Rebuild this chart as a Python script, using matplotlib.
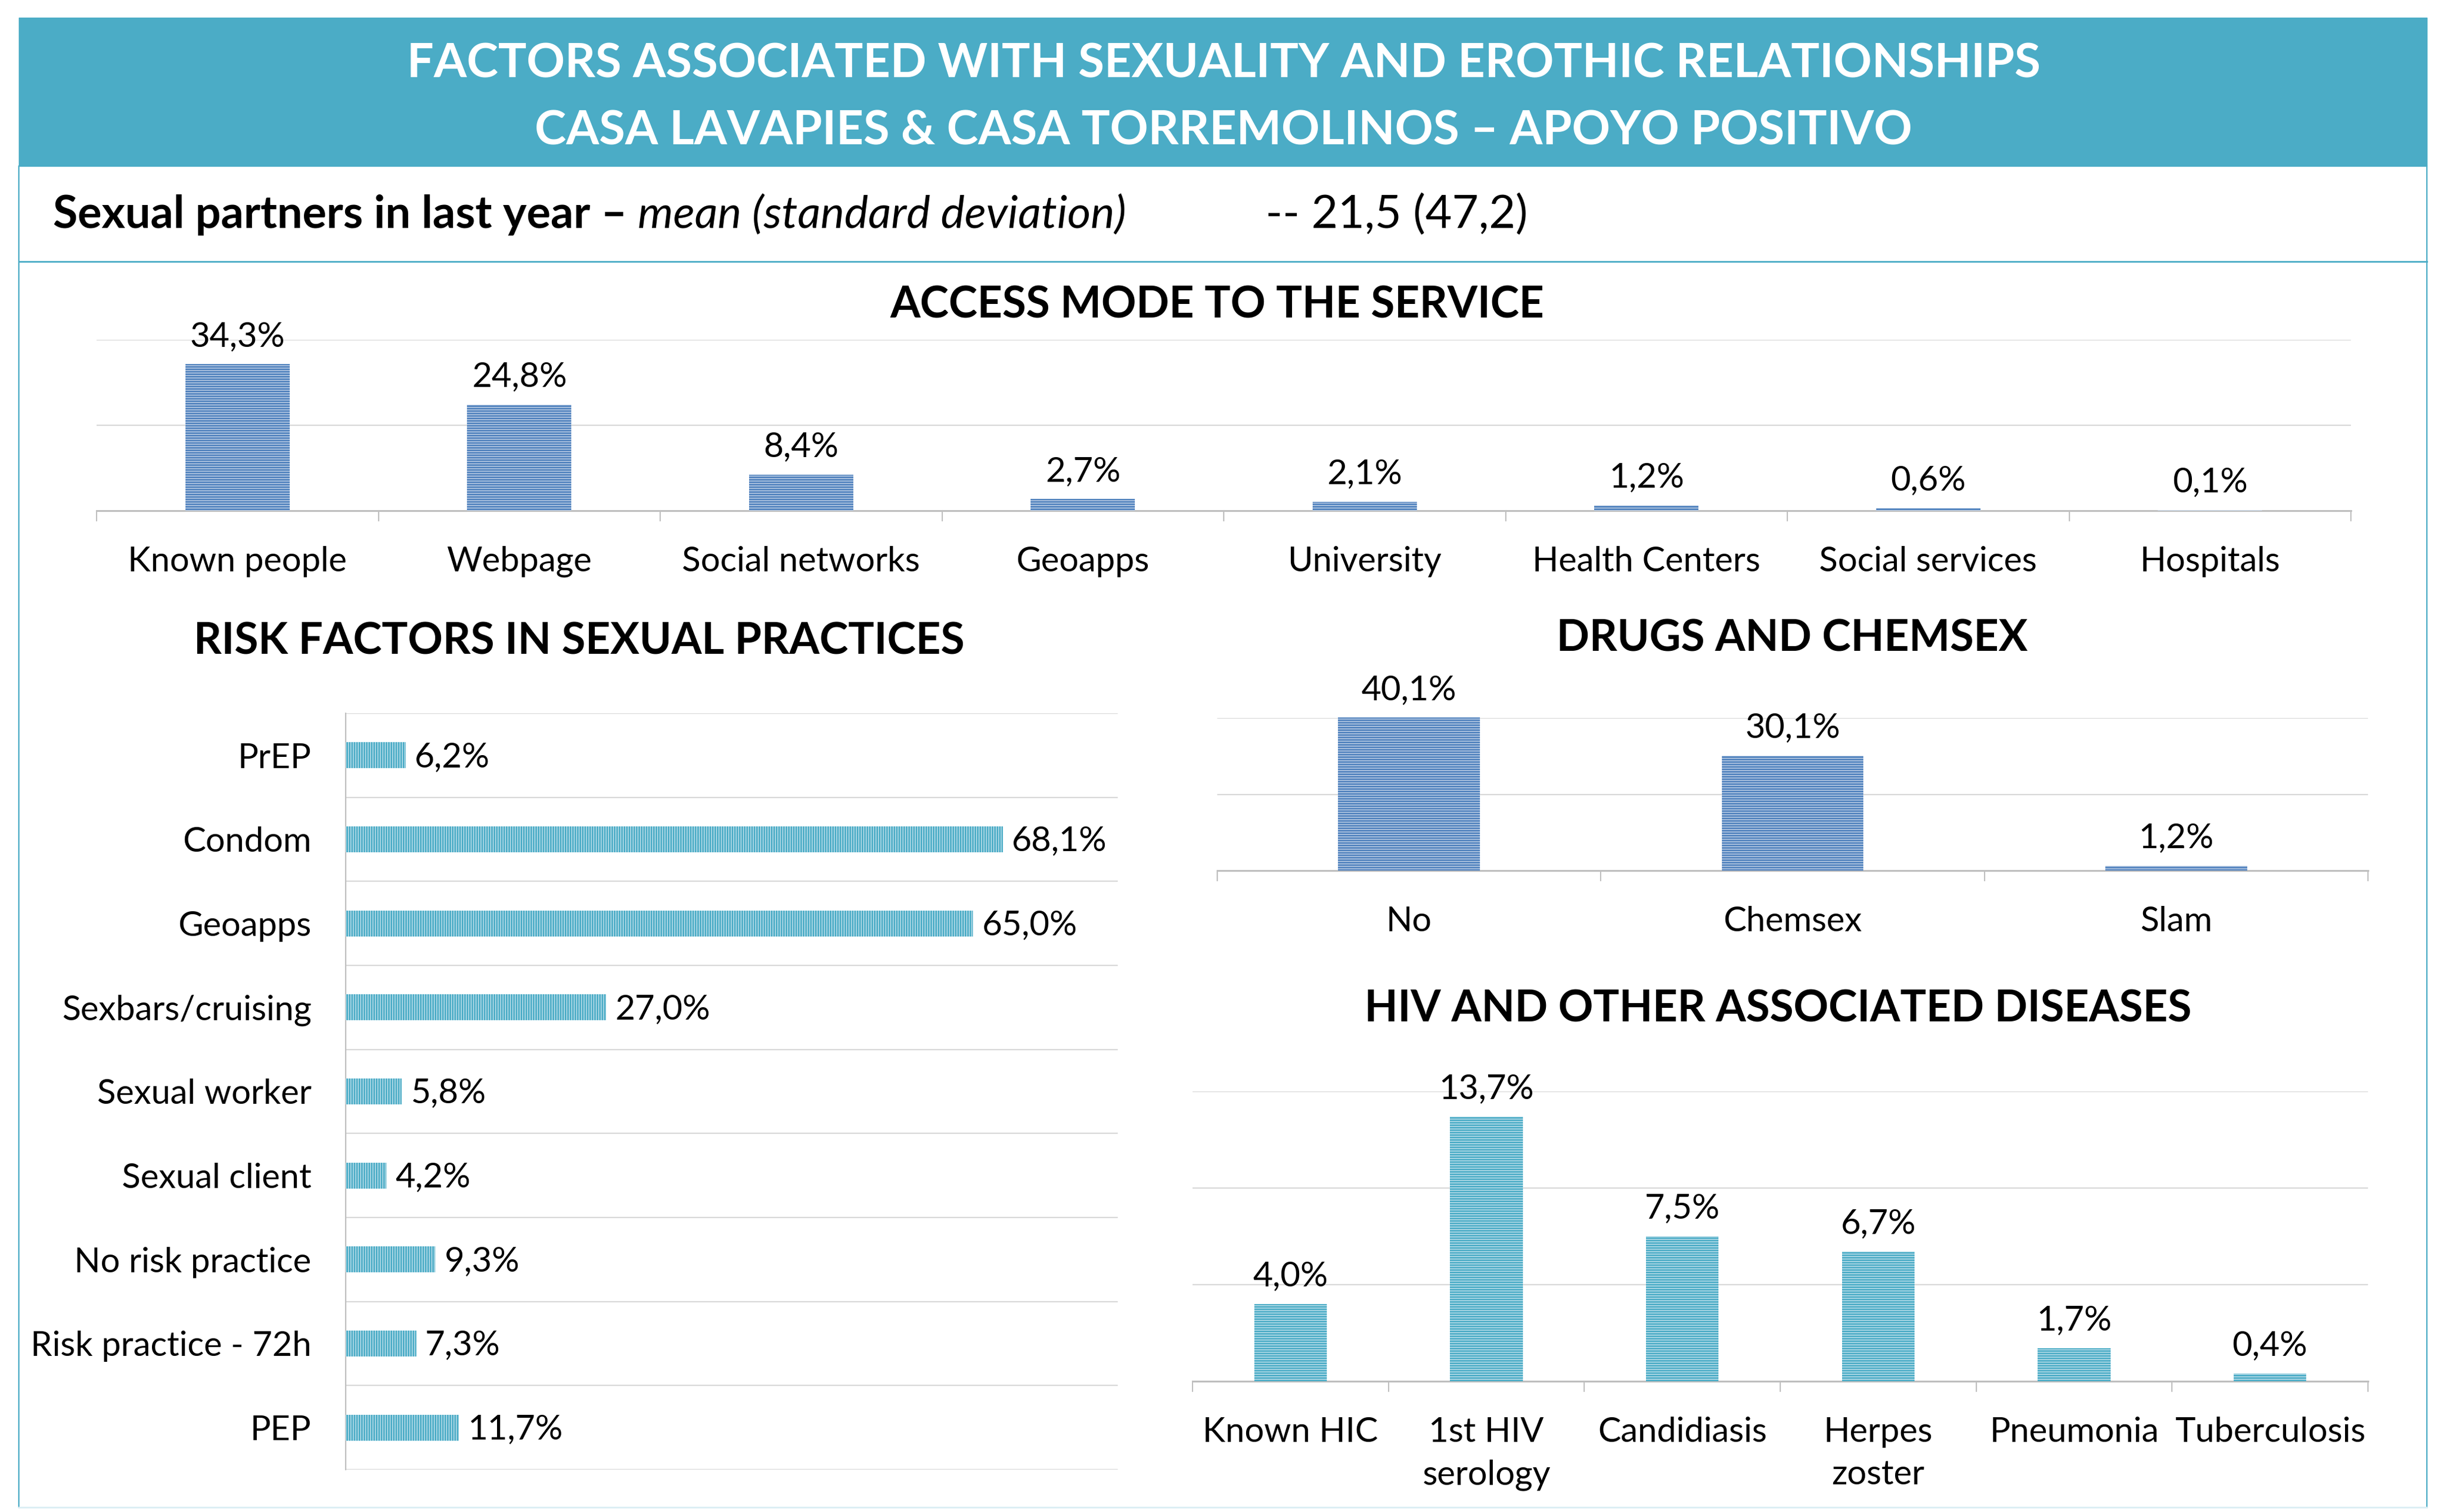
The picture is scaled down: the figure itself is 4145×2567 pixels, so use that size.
import matplotlib
matplotlib.use("Agg")
import matplotlib.pyplot as plt
import numpy as np

# data
access_cats = ["Known people", "Webpage", "Social networks", "Geoapps", "University",
               "Health Centers", "Social services", "Hospitals"]
access_vals = [34.3, 24.8, 8.4, 2.7, 2.1, 1.2, 0.6, 0.1]

risk_cats = ["PrEP", "Condom", "Geoapps", "Sexbars/cruising", "Sexual worker",
             "Sexual client", "No risk practice", "Risk practice - 72h", "PEP"]
risk_vals = [6.2, 68.1, 65.0, 27.0, 5.8, 4.2, 9.3, 7.3, 11.7]

drug_cats = ["No", "Chemsex", "Slam"]
drug_vals = [40.1, 30.1, 1.2]

hiv_cats = ["Known HIC", "1st HIV\nserology", "Candidiasis", "Herpes\nzoster",
            "Pneumonia", "Tuberculosis"]
hiv_vals = [4.0, 13.7, 7.5, 6.7, 1.7, 0.4]

title_lines = ["FACTORS ASSOCIATED WITH SEXUALITY AND EROTHIC RELATIONSHIPS",
               "CASA LAVAPIES & CASA TORREMOLINOS \u2013 APOYO POSITIVO"]

W, H = 4145, 2567
plt.rcParams["font.family"] = ["Lato", "DejaVu Sans"]
plt.rcParams["hatch.linewidth"] = 2.0

BLUE, BLUE_L = "#4F81BD", "#C9D7EA"
AQUA, AQUA_L = "#4BACC6", "#C8E4EE"
GRID, AXIS = "#D9D9D9", "#BFBFBF"
LBL = 42

fig = plt.figure(figsize=(W / 100, H / 100), dpi=100)


def box(x0, y0, x1, y1):
    # pixel box (top-left origin) -> figure fraction
    return [x0 / W, 1 - y1 / H, (x1 - x0) / W, (y1 - y0) / H]


def fmt(v):
    return f"{v:.1f}".replace(".", ",") + "%"


# header and frame
fig.patches.append(plt.Rectangle((32 / W, 1 - 282 / H), (4121 - 32) / W, 252 / H,
                                 transform=fig.transFigure, color=AQUA, zorder=0))
fig.add_artist(plt.Line2D([32 / W, 32 / W], [1 - 282 / H, 1 - 2559 / H], color=AQUA, lw=1.6))
fig.add_artist(plt.Line2D([4121 / W, 4121 / W], [1 - 282 / H, 1 - 2559 / H], color=AQUA, lw=1.6))
fig.add_artist(plt.Line2D([32 / W, 4121 / W], [1 - 444 / H, 1 - 444 / H], color=AQUA, lw=2))
fig.add_artist(plt.Line2D([32 / W, 4121 / W], [1 - 2559 / H, 1 - 2559 / H], color="#DAEEF3", lw=2))

fig.text(2078 / W, 1 - 108 / H, title_lines[0], color="white", fontsize=58,
         fontweight="bold", ha="center", va="center")
fig.text(2078 / W, 1 - 222 / H, title_lines[1], color="white", fontsize=58,
         fontweight="bold", ha="center", va="center")

t1 = fig.text(90 / W, 1 - 365 / H, "Sexual partners in last year \u2013 ", fontsize=55,
              fontweight="bold", ha="left", va="center")
r = fig.canvas.get_renderer()
bb = t1.get_window_extent(r)
fig.text(bb.x1 / W, 1 - 365 / H, "mean (standard deviation)", fontsize=55,
         fontstyle="italic", ha="left", va="center")
fig.text(2149 / W, 1 - 365 / H, "-- 21,5 (47,2)", fontsize=56, ha="left", va="center")

# section titles
fig.text(2067 / W, 1 - 518 / H, "ACCESS MODE TO THE SERVICE", fontsize=53,
         fontweight="bold", ha="center", va="center")
fig.text(983 / W, 1 - 1089 / H, "RISK FACTORS IN SEXUAL PRACTICES", fontsize=53,
         fontweight="bold", ha="center", va="center")
fig.text(3043 / W, 1 - 1084 / H, "DRUGS AND CHEMSEX", fontsize=53,
         fontweight="bold", ha="center", va="center")
fig.text(3019 / W, 1 - 1713 / H, "HIV AND OTHER ASSOCIATED DISEASES", fontsize=53,
         fontweight="bold", ha="center", va="center")


def column_chart(rect, cats, vals, ymax, step, dark, light, lblpad):
    ax = fig.add_axes(rect)
    x = np.arange(len(cats))
    ax.bar(x, vals, width=0.37, color=light, edgecolor=dark, linewidth=0,
           hatch="----", clip_on=False, zorder=3)
    for xi, v in zip(x, vals):
        ax.annotate(fmt(v), (xi, v), xytext=(0, 34), textcoords="offset points",
                    ha="center", va="center", fontsize=LBL, annotation_clip=False)
    ax.set_xlim(-0.5, len(cats) - 0.5)
    ax.set_ylim(0, ymax)
    ax.set_yticks(np.arange(step, ymax + 0.01, step))
    ax.yaxis.grid(True, color=GRID, lw=1.6)
    ax.set_axisbelow(True)
    ax.tick_params(axis="y", length=0, labelleft=False)
    for s in ["top", "right", "left"]:
        ax.spines[s].set_visible(False)
    ax.spines["bottom"].set_color(AXIS)
    ax.spines["bottom"].set_linewidth(2.2)
    ax.set_xticks(np.arange(len(cats) + 1) - 0.5)
    ax.set_xticklabels([])
    ax.tick_params(axis="x", which="major", length=13, width=1.5, color=AXIS)
    ax.set_xticks(x, minor=True)
    ax.set_xticklabels(cats, minor=True, fontsize=LBL, linespacing=1.45)
    ax.tick_params(axis="x", which="minor", length=0, pad=lblpad)
    ax.patch.set_alpha(0)
    return ax


column_chart(box(164, 577, 3992, 867), access_cats, access_vals, 40, 20, BLUE, BLUE_L, 43)
column_chart(box(2067, 1219, 4021, 1478), drug_cats, drug_vals, 40, 20, BLUE, BLUE_L, 43)
column_chart(box(2025, 1853, 4021, 2345), hiv_cats, hiv_vals, 15, 5, AQUA, AQUA_L, 43)

# risk factors (horizontal bars)
ax = fig.add_axes(box(587, 1211, 1898, 2495))
y = np.arange(len(risk_cats))
ax.barh(y, risk_vals, height=0.31, color=AQUA_L, edgecolor=AQUA, linewidth=0,
        hatch="||||", zorder=3)
for yi, v in zip(y, risk_vals):
    ax.annotate(fmt(v), (v, yi), xytext=(11, -2), textcoords="offset points",
                ha="left", va="center", fontsize=LBL)
ax.set_xlim(0, 80)
ax.set_ylim(len(risk_cats) - 0.5, -0.5)
ax.set_xticks([])
ax.set_yticks(np.arange(len(risk_cats) + 1) - 0.5)
ax.set_yticklabels([])
ax.yaxis.grid(True, color=GRID, lw=1.6)
ax.set_axisbelow(True)
ax.tick_params(axis="y", which="major", length=0)
ax.set_yticks(y, minor=True)
ax.set_yticklabels(risk_cats, minor=True, fontsize=LBL)
ax.tick_params(axis="y", which="minor", length=0, pad=42)
for s in ["top", "right", "bottom"]:
    ax.spines[s].set_visible(False)
ax.spines["left"].set_color(AXIS)
ax.spines["left"].set_linewidth(1.6)
ax.patch.set_alpha(0)

fig.savefig("out.png", dpi=100, facecolor="white")
